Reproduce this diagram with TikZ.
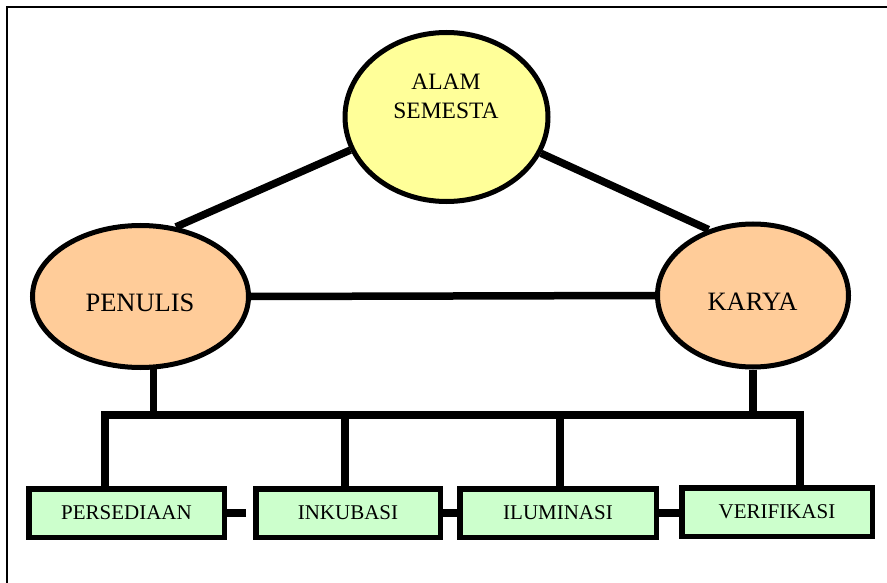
\documentclass[tikz,border=0pt]{standalone}
\usepackage{fontspec}
\setmainfont{Liberation Serif}
\usetikzlibrary{shapes.geometric}
\definecolor{sunyellow}{HTML}{FFFF99}
\definecolor{peach}{HTML}{FFCC99}
\definecolor{stagegreen}{HTML}{CCFFCC}
\begin{document}
\begin{tikzpicture}[x=1pt,y=-1pt,
  bubble/.style={ellipse, draw=black, line width=5pt, inner sep=0pt},
  stage/.style={rectangle, draw=black, line width=5.5pt, fill=stagegreen, inner sep=0pt,
    minimum height=48.5pt, font=\fontsize{21}{25}\selectfont},
  link/.style={line width=7.5pt, black},
]
\useasboundingbox (0,0) rectangle (887,583);
\draw[line width=1.6pt] (887,7) -- (7,7) -- (7,583);

\node[bubble, fill=sunyellow, minimum width=203pt, minimum height=169pt] (alam) at (446.5,117) {};
\node[font=\fontsize{23.5}{29}\selectfont, align=center] (alamtext) at (446,96) {ALAM\\SEMESTA};
\node[bubble, fill=peach, minimum width=216pt, minimum height=142pt] (penulis) at (140.5,296.5) {};
\node[font=\fontsize{26.5}{30}\selectfont] (penulistext) at (140,303) {PENULIS};
\node[bubble, fill=peach, minimum width=191pt, minimum height=143pt] (karya) at (753,295.5) {};
\node[font=\fontsize{26.5}{30}\selectfont] (karyatext) at (752.5,302) {KARYA};

\node[stage, minimum width=195.5pt] (b1) at (126.5,513) {PERSEDIAAN};
\node[stage, minimum width=184.5pt] (b2) at (348,513) {INKUBASI};
\node[stage, minimum width=196.5pt] (b3) at (558,513) {ILUMINASI};
\node[stage, minimum width=190.5pt] (b4) at (777,512) {VERIFIKASI};

\coordinate (busL) at (105,415);
\coordinate (busR) at (800,415);
\coordinate (d2) at (345,415);
\coordinate (d3) at (560,415);

\draw[link] (alam.199) -- (penulis.63);
\draw[link] (alam.339) -- (karya.124);
\draw[link] (penulis.east) -- (karya.west);
\draw[link] (penulis.-80) -- (penulis.-80 |- busL);
\draw[link] (karya.south) -- (karya.south |- busL);
\draw[link] (b1.north -| busL) |- (busR) -- (b4.north -| busR);
\draw[link] (d2) -- (d2 |- b2.north);
\draw[link] (d3) -- (d3 |- b3.north);
\draw[link, shorten >=7.5pt] (b1.east) -- (b2.west);
\draw[link] (b2.east) -- (b3.west);
\draw[link] (b3.east) -- (b3.east -| b4.west);
\end{tikzpicture}
\end{document}
